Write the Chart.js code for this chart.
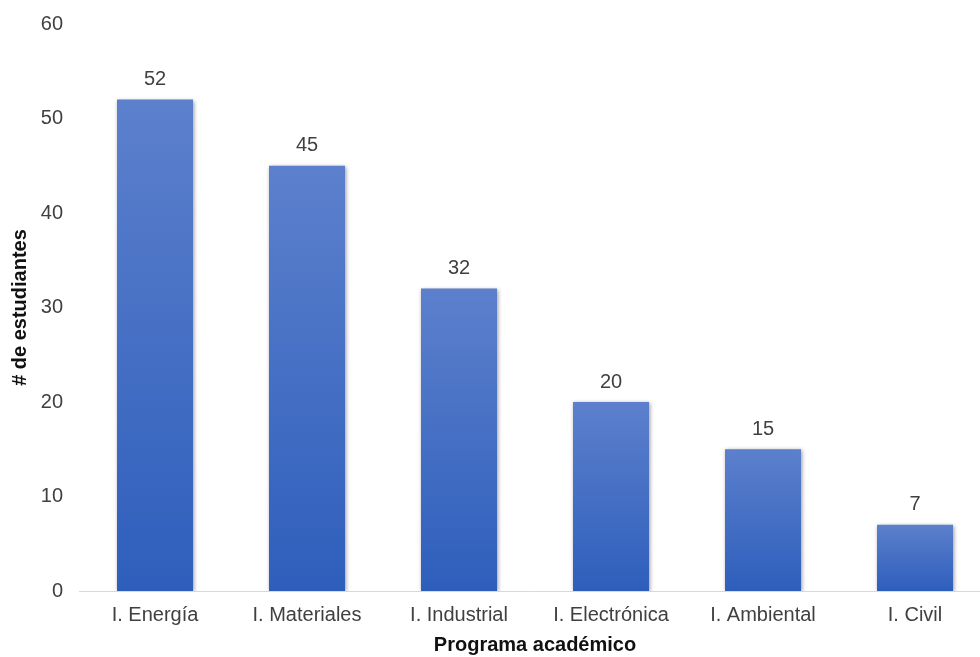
<!DOCTYPE html>
<html>
<head>
<meta charset="utf-8">
<script src="https://cdn.jsdelivr.net/npm/chart.js@4"></script>
<style>
  html, body { margin: 0; padding: 0; background: #fff; overflow: hidden; }
  #wrap { width: 992px; height: 657px; }
</style>
</head>
<body>
<div id="wrap"><canvas id="myChart"></canvas></div>
<script>
// datos del grafico
const programas = ['I. Energía', 'I. Materiales', 'I. Industrial', 'I. Electrónica', 'I. Ambiental', 'I. Civil'];
const estudiantes = [52, 45, 32, 20, 15, 7];
const yTicks = [0, 10, 20, 30, 40, 50, 60];

const fontFam = '"Liberation Sans", Arial, sans-serif';
const textColor = '#404040';

// etiquetas de valor encima de cada barra
const valueLabels = {
    id: 'valueLabels',
    afterDatasetsDraw(chart) {
        const c = chart.ctx;
        const meta = chart.getDatasetMeta(0);
        c.save();
        c.font = '20px ' + fontFam;
        c.fillStyle = textColor;
        c.textAlign = 'center';
        c.textBaseline = 'bottom';
        meta.data.forEach((bar, i) => {
            c.fillText(estudiantes[i], bar.x, bar.y - 10);
        });
        c.restore();
    }
};

// sombra suave de las barras
const barShadow = {
    id: 'barShadow',
    beforeDatasetsDraw(chart) {
        const c = chart.ctx;
        c.save();
        c.shadowColor = 'rgba(0,0,0,0.4)';
        c.shadowBlur = 4;
        c.shadowOffsetX = 1;
        c.shadowOffsetY = 1;
    },
    afterDatasetsDraw(chart) {
        chart.ctx.restore();
    }
};

const ctx1 = document.getElementById('myChart');
const myChart = new Chart(ctx1, {
    type: 'bar',
    data: {
        labels: programas,
        datasets: [{
            data: estudiantes,
            backgroundColor: (context) => {
                const chart = context.chart;
                const area = chart.chartArea;
                if (!area || context.dataIndex === undefined) return '#4a72c4';
                const yTop = chart.scales.y.getPixelForValue(estudiantes[context.dataIndex]);
                const g = chart.ctx.createLinearGradient(0, yTop, 0, area.bottom);
                g.addColorStop(0, 'rgb(92,128,204)');
                g.addColorStop(1, 'rgb(46,94,188)');
                return g;
            },
            borderWidth: 0,
            barPercentage: 0.5,
            categoryPercentage: 1.0
        }]
    },
    options: {
        responsive: true,
        maintainAspectRatio: false,
        animation: false,
        layout: { padding: { top: 24, right: 1, left: 0, bottom: 0 } },
        plugins: {
            legend: { display: false },
            tooltip: { enabled: false }
        },
        scales: {
            x: {
                grid: { display: false, drawTicks: false },
                border: { display: true, color: '#d9d9d9', width: 1 },
                ticks: { color: textColor, font: { family: fontFam, size: 20 }, padding: 12 },
                title: {
                    display: true,
                    text: 'Programa académico',
                    color: '#111',
                    font: { family: fontFam, size: 20, weight: 'bold' },
                    padding: { top: 0, bottom: 0 }
                },
                afterFit(scale) { scale.height = 66; }
            },
            y: {
                min: 0,
                max: 60,
                afterBuildTicks(scale) { scale.ticks = yTicks.map(v => ({ value: v })); },
                grid: { display: false, drawTicks: false },
                border: { display: false },
                ticks: { color: textColor, font: { family: fontFam, size: 20 }, padding: 16 },
                title: {
                    display: true,
                    text: '# de estudiantes',
                    color: '#111',
                    font: { family: fontFam, size: 20, weight: 'bold' },
                    padding: { top: 8, bottom: 0 }
                },
                afterFit(scale) {
                    scale.width = 79;
                    scale.paddingTop = 0;
                    scale.paddingBottom = 0;
                }
            }
        }
    },
    plugins: [barShadow, valueLabels]
});
</script>
</body>
</html>
